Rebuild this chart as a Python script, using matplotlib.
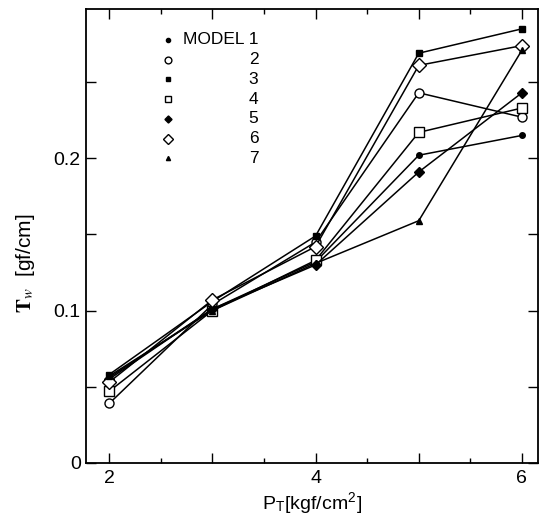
import numpy as np
import matplotlib
matplotlib.use("Agg")
import matplotlib.pyplot as plt
from matplotlib.ticker import MultipleLocator, FixedLocator, FixedFormatter

plt.rcParams['font.family'] = ['Liberation Sans', 'DejaVu Sans']
plt.rcParams['mathtext.fontset'] = 'stix'

# --- data ---
pressure = [2, 3, 4, 5, 6]
model_1 = [0.056, 0.101, 0.132, 0.202, 0.215]
model_2 = [0.039, 0.104, 0.145, 0.243, 0.227]
model_3 = [0.058, 0.106, 0.149, 0.269, 0.285]
model_4 = [0.047, 0.100, 0.133, 0.217, 0.233]
model_5 = [0.055, 0.101, 0.130, 0.191, 0.243]
model_6 = [0.053, 0.107, 0.142, 0.261, 0.274]
model_7 = [0.057, 0.100, 0.131, 0.159, 0.271]

models = [model_1, model_2, model_3, model_4, model_5, model_6, model_7]
legend_labels = ["MODEL 1", "2", "3", "4", "5", "6", "7"]

# marker, size, filled
styles = [
    ("o", 4.0, True),
    ("o", 6.5, False),
    ("s", 4.0, True),
    ("s", 6.5, False),
    ("D", 4.8, True),
    ("D", 7.2, False),
    ("^", 4.0, True),
]

fig = plt.figure(figsize=(5.39, 5.32), dpi=100)
ax = fig.add_axes([0.160, 0.130, 0.838, 0.853])

for vals, (m, ms, filled) in zip(models, styles):
    ax.plot(pressure, vals, color='black', lw=1.1, marker=m, ms=ms,
            mfc='black' if filled else 'white', mec='black', mew=1.0)

# legend drawn by hand: markers on the left, numbers right-aligned
for i, (lab, (m, ms, filled)) in enumerate(zip(legend_labels, styles)):
    yy = 0.932 - i * 0.0435
    ax.plot([0.180], [yy], transform=ax.transAxes, marker=m, ms=ms * 0.75,
            mfc='black' if filled else 'white', mec='black', mew=1.0,
            ls='none', clip_on=False)
    ax.text(0.381, yy, lab, transform=ax.transAxes, ha='right', va='center',
            fontsize=12.5)

ax.set_xlim(1.777, 6.155)
ax.set_ylim(0, 0.298)

ax.xaxis.set_major_locator(FixedLocator([2, 3, 4, 5, 6]))
ax.xaxis.set_major_formatter(FixedFormatter(["2", "", "4", "", "6"]))
ax.xaxis.set_minor_locator(MultipleLocator(0.5))
ax.yaxis.set_major_locator(FixedLocator([0, 0.05, 0.1, 0.15, 0.2, 0.25]))
ax.yaxis.set_major_formatter(FixedFormatter(["0", "", "0.1", "", "0.2", ""]))

ax.tick_params(which='both', direction='in', top=True, right=True,
               labelsize=14, width=1.0)
ax.tick_params(which='major', length=7)
ax.tick_params(which='minor', length=3.5)
ax.tick_params(axis='x', pad=5)
ax.tick_params(axis='y', pad=4)

for sp in ax.spines.values():
    sp.set_linewidth(1.3)

ax.set_xlabel(r"P$_\mathregular{T}$[kgf/cm$^\mathregular{2}$]", fontsize=14,
              labelpad=3)
ax.set_ylabel(r"$\mathbf{T}_{w}$  [gf/cm]", fontsize=15)
ax.yaxis.set_label_coords(-0.11, 0.44)

fig.savefig("out.png", dpi=100)
